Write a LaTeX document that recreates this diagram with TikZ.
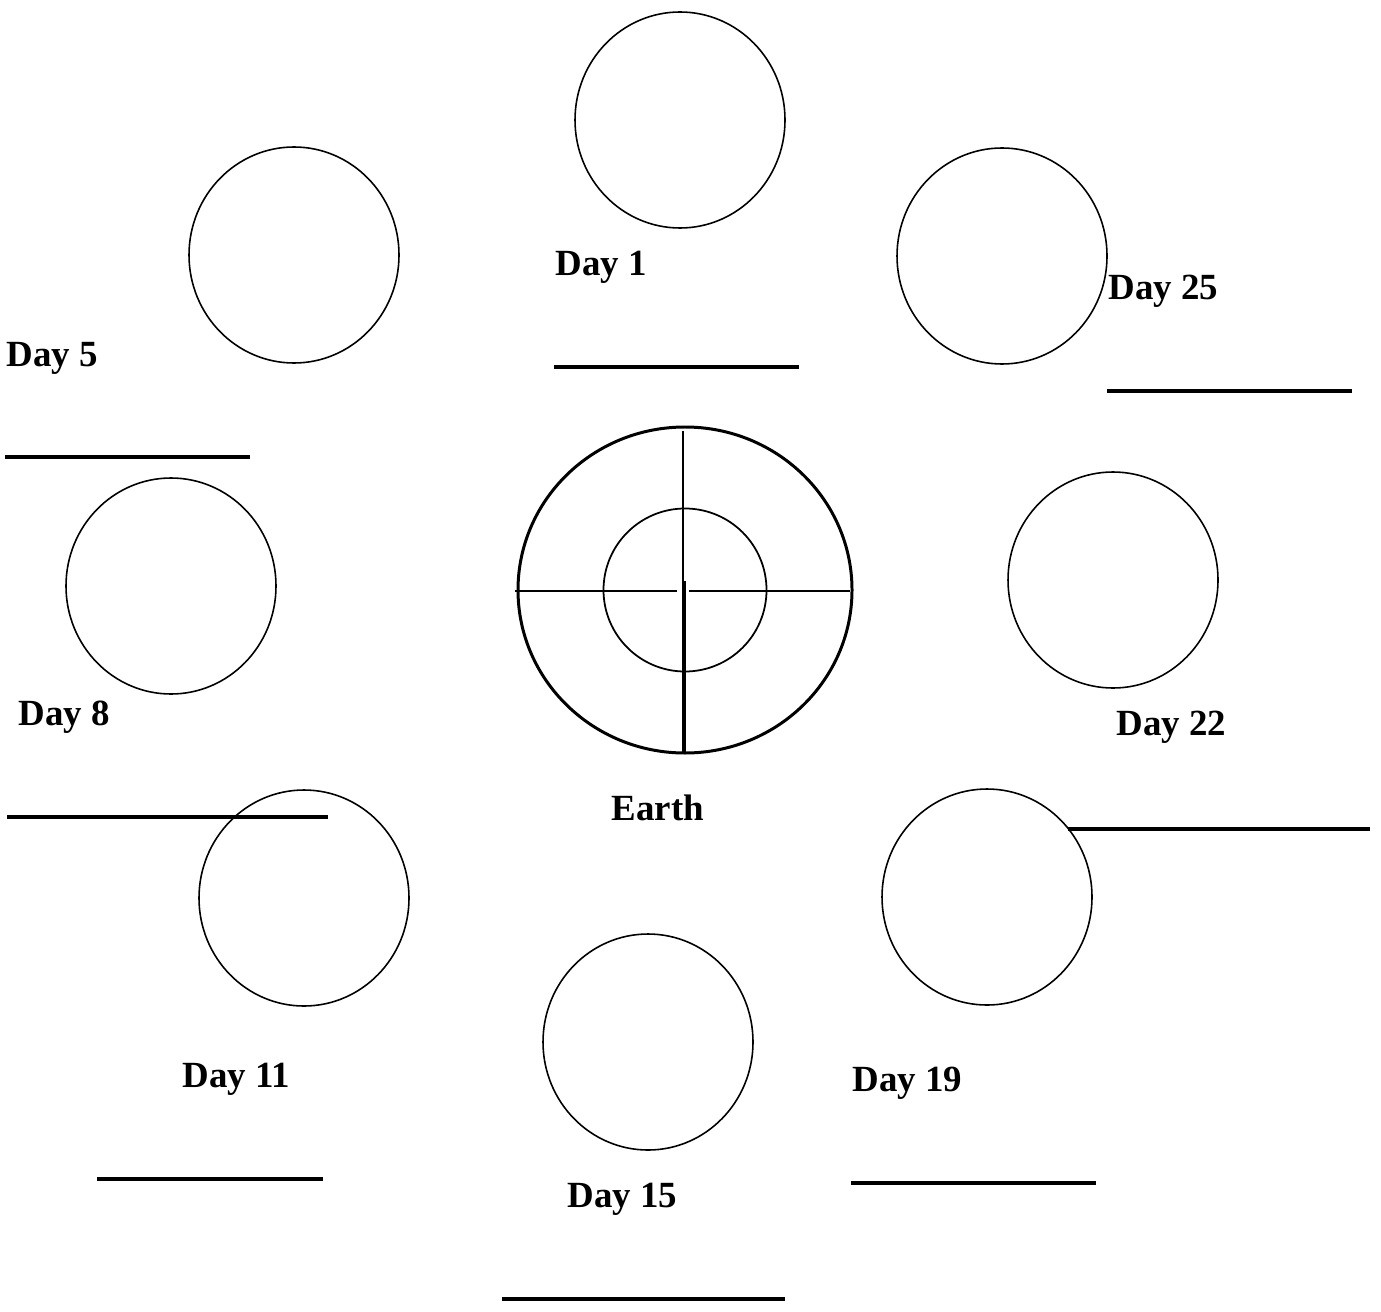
\documentclass[tikz,border=0pt]{standalone}
\usepackage{fontspec}
\setmainfont{Liberation Serif}
\usetikzlibrary{shapes.geometric}
\tikzset{
  moon/.style={draw, ellipse, line width=0.45pt, inner sep=0pt,
    minimum width=2.1cm, minimum height=2.16cm},
  daylabel/.style={anchor=base west, inner sep=0pt,
    font=\fontsize{10.5}{12}\selectfont\bfseries},
  blank/.style={line width=0.95pt},
}
\begin{document}
\begin{tikzpicture}[y=-1cm]
  \useasboundingbox (0,0) rectangle (13.81,13.11);
  % moons
  \node[moon] (m1) at (6.80,1.20) {};
  \node[moon] (m5) at (2.94,2.55) {};
  \node[moon] (m25) at (10.02,2.56) {};
  \node[moon] (m8) at (1.71,5.86) {};
  \node[moon] (m22) at (11.13,5.80) {};
  \node[moon] (m11) at (3.04,8.98) {};
  \node[moon] (m19) at (9.87,8.97) {};
  \node[moon] (m15) at (6.48,10.42) {};
  % earth
  \coordinate (E) at (6.85,5.90);
  \draw[line width=0.85pt] (E) ellipse (1.67 and 1.63);
  \draw[line width=0.5pt] (E) circle (0.815);
  \draw[line width=0.8pt] (5.15,5.91) -- (6.77,5.91);
  \draw[line width=0.8pt] (6.89,5.91) -- (8.50,5.91);
  \draw[line width=0.6pt] (6.83,4.31) -- (6.83,5.87);
  \draw[line width=0.9pt] (6.84,5.81) -- (6.84,7.53);
  % labels
  \node[daylabel] (d1) at (5.55,2.75) {Day 1};
  \node[daylabel] (d25) at (11.08,2.99) {Day 25};
  \node[daylabel] (d5) at (0.06,3.66) {Day 5};
  \node[daylabel] (d8) at (0.18,7.25) {Day 8};
  \node[daylabel] (d22) at (11.16,7.35) {Day 22};
  \node[daylabel] (earth) at (6.11,8.20) {Earth};
  \node[daylabel] (d11) at (1.82,10.87) {Day 11};
  \node[daylabel] (d19) at (8.52,10.91) {Day 19};
  \node[daylabel] (d15) at (5.67,12.07) {Day 15};
  % answer lines
  \draw[blank] (5.54,3.67) -- (7.99,3.67);
  \draw[blank] (11.07,3.91) -- (13.52,3.91);
  \draw[blank] (0.05,4.57) -- (2.50,4.57);
  \draw[blank] (0.07,8.17) -- (3.28,8.17);
  \draw[blank] (10.68,8.29) -- (13.70,8.29);
  \draw[blank] (0.97,11.79) -- (3.23,11.79);
  \draw[blank] (8.51,11.83) -- (10.96,11.83);
  \draw[blank] (5.02,12.99) -- (7.85,12.99);
\end{tikzpicture}
\end{document}
